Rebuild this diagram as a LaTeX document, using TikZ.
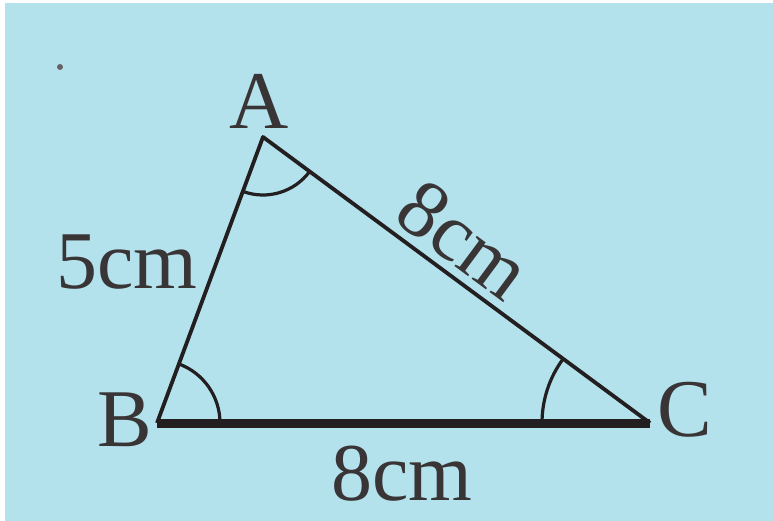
\documentclass[tikz,border=0pt]{standalone}
\usepackage{fontspec}
\setmainfont{Liberation Serif}
\definecolor{bgblue}{HTML}{B3E2EC}
\definecolor{ink}{HTML}{231F20}
\begin{document}
\begin{tikzpicture}[x=1pt,y=-1pt,
  lbl/.style={inner sep=0pt,text=ink!90,font=\fontsize{82}{94}\selectfont},
  side/.style={draw=ink,line width=3.8pt},
  ang/.style={draw=ink,line width=3.2pt}]
\useasboundingbox (0,0) rectangle (773,521);
\fill[white] (0,0) rectangle (773,521);
\fill[bgblue] (5,3) rectangle (773,521);
\fill[ink!70] (60,67) circle (3);
\coordinate (A) at (263,137);
\coordinate (B) at (157,423);
\coordinate (C) at (650,423);
\draw[side,line join=round] (B) -- (A) -- (C);
\draw[draw=ink,line width=9pt] (B) -- (C);
% angle arcs
\draw[ang] ([shift={(110.3:58)}]A) arc[start angle=110.3,end angle=36.5,radius=58];
\draw[ang] ([shift={(0:63)}]B) arc[start angle=0,end angle=-69.7,radius=63];
\draw[ang] ([shift={(180:108)}]C) arc[start angle=180,end angle=216.5,radius=108];
\node[lbl] (la) at (259,101) {A};
\node[lbl] (lb) at (125,420) {B};
\node[lbl] (lc) at (685,410) {C};
\node[lbl] (s1) at (127,262) {5cm};
\node[lbl,rotate=-36.5] (s2) at (464,240) {8cm};
\node[lbl] (s3) at (402,474) {8cm};
\end{tikzpicture}
\end{document}
